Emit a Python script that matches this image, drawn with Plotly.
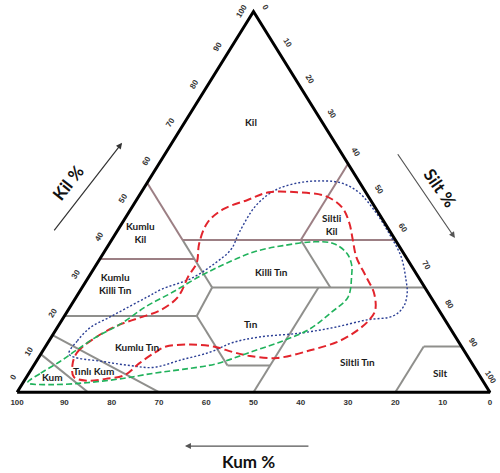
import plotly.graph_objects as go

# ---------------- data (sand %, clay %) ; silt = 100 - sand - clay ----------------
tick_values = [0, 10, 20, 30, 40, 50, 60, 70, 80, 90, 100]

# class boundary segments (pairs of endpoints)
brown_seg_sand = [[45, 45], [45, 0], [0, 20], [65, 45]]
brown_seg_clay = [[55, 40], [40, 40], [60, 40], [35, 35]]
gray_seg_sand = [[45, 45], [45, 52], [80, 52], [45, 0], [20, 20], [22.5, 50],
                 [52, 52], [52, 43], [8, 0], [8, 20], [85, 70], [90, 85]]
gray_seg_clay = [[40, 27.5], [27.5, 20], [20, 20], [27.5, 27.5], [40, 27.5], [27.5, 0],
                 [20, 7], [7, 7], [12, 12], [12, 0], [15, 0], [10, 0]]

# texture class labels
class_names = ["Kil", "Kumlu<br>Kil", "Siltli<br>Kil", "Kumlu<br>Killi Tın", "Killi Tın",
               "Tın", "Kumlu Tın", "Tınlı Kum", "Kum", "Siltli Tın", "Silt"]
class_sand = [15, 53, 11.5, 65, 30.5, 41.5, 68.5, 81, 90.5, 24, 8]
class_clay = [71, 42, 44, 28.5, 31.5, 18, 12, 5.5, 4, 8, 5]

# envelopes
blue_sand = [84, 80.5, 76, 71, 66, 60, 56, 48, 41, 36, 32, 25, 19, 13, 8, 4, 1.5, 0.5, 0.5, 1,
             3, 4.5, 7, 10.5, 16.5, 24.5, 32.5, 41.5, 48, 54, 61, 68, 72.5, 77.5, 84]
blue_clay = [10, 13.5, 17, 19.5, 22, 25, 27, 30, 34, 37.5, 42, 49, 53, 55, 55.5, 55, 52.5, 47, 41, 35.5,
             29.5, 26, 22.5, 20, 19, 17, 15.5, 14.5, 13, 10.5, 8.5, 6.5, 7, 8, 10]
red_sand = [84.5, 82, 76, 70, 64.5, 59, 53.5, 48.5, 45, 42, 37.5, 32.5, 26, 20.5, 14.5, 9, 7, 7.5,
            9, 10.5, 11, 11.5, 13.5, 16, 19.5, 25, 32.5, 40.5, 46, 49, 52.5, 57, 62.5, 65.5,
            70.5, 75, 79.5, 83.5, 86, 84.5]
red_clay = [7.5, 10.5, 14.5, 17.5, 19.5, 21.5, 25, 30.5, 34, 39, 44.5, 48, 50.5, 52.5, 52.5, 51.5,
            48.5, 44.5, 40, 35.5, 30.5, 26, 21.5, 19, 16.5, 13.5, 11, 9, 9.5, 10.5, 12, 12.5, 12,
            10.5, 7.5, 4.5, 3.5, 3, 4, 7.5]
green_sand = [96.5, 92.5, 87, 82, 76, 69, 61.5, 54.5, 46, 38.5, 31, 24.5, 17.5, 13.5, 12, 12.5, 14,
              17.5, 23, 30, 37, 45.5, 54, 62, 68.5, 76.5, 84, 91.5, 96.5]
green_clay = [2.5, 5, 8, 11, 14.5, 18, 22.5, 26, 30.5, 34, 37, 38.5, 39.5, 39, 36.5, 33.5, 30.5,
              25, 21, 16.5, 13.5, 10.5, 7.5, 6, 5, 3.5, 2.5, 2, 2.5]


def tx(sand, clay):
    return 100 - sand - clay / 2.0


def seg_xy(s_list, c_list):
    xs, ys = [], []
    for s, c in zip(s_list, c_list):
        xs += [tx(s[0], c[0]), tx(s[1], c[1]), None]
        ys += [c[0], c[1], None]
    return xs, ys


fig = go.Figure()

bx, by = seg_xy(brown_seg_sand, brown_seg_clay)
gx, gy = seg_xy(gray_seg_sand, gray_seg_clay)
fig.add_trace(go.Scatter(x=gx, y=gy, mode="lines", line=dict(color="#8f8f8c", width=2), hoverinfo="skip"))
fig.add_trace(go.Scatter(x=bx, y=by, mode="lines", line=dict(color="#9c7f84", width=2), hoverinfo="skip"))

for sand, clay, col, dash, w in [
    (blue_sand, blue_clay, "#2b3f95", "2px,2px", 1.4),
    (red_sand, red_clay, "#e2242c", "8px,4px", 2),
    (green_sand, green_clay, "#21b25c", "6px,3px", 1.6),
]:
    fig.add_trace(go.Scatter(x=[tx(s, c) for s, c in zip(sand, clay)], y=clay, mode="lines",
                             line=dict(color=col, width=w, dash=dash, shape="spline", smoothing=1),
                             hoverinfo="skip"))

# triangle outline
tri_sand = [100, 0, 0, 100]
tri_clay = [0, 100, 0, 0]
fig.add_trace(go.Scatter(x=[tx(s, c) for s, c in zip(tri_sand, tri_clay)], y=tri_clay, mode="lines",
                         line=dict(color="black", width=3), hoverinfo="skip"))

ann = []
for name, s, c in zip(class_names, class_sand, class_clay):
    ann.append(dict(x=tx(s, c), y=c, text=name, showarrow=False,
                    font=dict(family="Lato", size=10, color="#1c1c1c", weight="bold")))

tick_font = dict(family="Liberation Sans", size=8, color="#333333", weight="bold")
left_shift = {0: (-4, 15), 100: (-12, 0)}
right_shift = {0: (12, 4), 10: (10, 7), 20: (9, 8), 100: (1, 15)}
for v in tick_values:
    lx, ly = left_shift.get(v, (-12, 3))
    ann.append(dict(x=tx(100 - v, v), y=v, text=str(v), showarrow=False, textangle=-58,
                    xshift=lx, yshift=ly, font=tick_font))
    rx, ry = right_shift.get(v, (7, 12))
    ann.append(dict(x=tx(0, 100 - v), y=100 - v, text=str(v), showarrow=False, textangle=58,
                    xshift=rx, yshift=ry, font=tick_font))

title_font = dict(family="Lato", size=17, color="#111111", weight="bold")
ann += [
    dict(x=10.8, y=55.0, text="Kil %", showarrow=False, textangle=-52, font=title_font),
    dict(x=89.4, y=53.7, text="Silt %", showarrow=False, textangle=55, font=title_font),
    dict(x=49.0, xref="x", y=-0.1675, yref="paper", yanchor="middle", text="Kum %",
         showarrow=False, font=title_font),
    dict(x=22.2, y=65.5, ax=7.6, ay=42.1, axref="x", ayref="y", text="", showarrow=True,
         arrowhead=2, arrowsize=1, arrowwidth=1.2, arrowcolor="#333333"),
    dict(x=92.6, y=40.5, ax=80.3, ay=62.9, axref="x", ayref="y", text="", showarrow=True,
         arrowhead=2, arrowsize=1, arrowwidth=1.2, arrowcolor="#555555"),
    dict(x=35.5, xref="x", y=-0.127, yref="paper", ax=125, ay=0, axref="pixel", ayref="pixel",
         text="", showarrow=True, arrowhead=2, arrowsize=1, arrowwidth=1.2, arrowcolor="#555555"),
]

fig.update_layout(
    width=500, height=473,
    margin=dict(l=10, r=3, t=2, b=77),
    paper_bgcolor="white", plot_bgcolor="white",
    showlegend=False,
    annotations=ann,
    xaxis=dict(range=[-1.5, 101.5], showgrid=False, zeroline=False, showline=False,
               tickvals=[100 - v for v in tick_values], ticktext=[str(v) for v in tick_values],
               ticks="", tickfont=tick_font, fixedrange=True),
    yaxis=dict(range=[-1, 102.5], showgrid=False, zeroline=False, showline=False,
               showticklabels=False, ticks="", fixedrange=True),
)

fig.write_html("out.html", config={"displayModeBar": False},
               post_script="document.body.style.margin='0';")
